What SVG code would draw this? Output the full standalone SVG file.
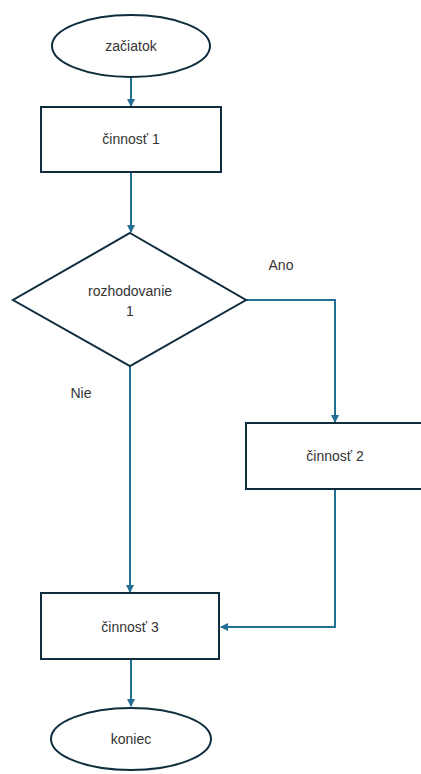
<svg xmlns="http://www.w3.org/2000/svg" width="421" height="774" viewBox="0 0 421 774">
<style>
.node{fill:#fff;stroke:#0f2d3d;stroke-width:2}
.lbl{font-family:"Liberation Sans","Noto Sans",sans-serif;font-size:14px;fill:#333;text-anchor:middle}
.edge{fill:none;stroke:#236e93;stroke-width:2}
</style>
<defs>
<marker id="ah" markerWidth="8" markerHeight="8" refX="7" refY="4" orient="auto" markerUnits="userSpaceOnUse">
<path d="M0,0 L8,4 L0,8 Z" fill="#236e93"/>
</marker>
</defs>
<rect width="421" height="774" fill="#fff"/>
<g id="connectors">
<line class="edge" x1="131" y1="78" x2="131" y2="106" marker-end="url(#ah)"/>
<line class="edge" x1="131" y1="172" x2="131" y2="232" marker-end="url(#ah)"/>
<polyline class="edge" points="246,300 335,300 335,422" marker-end="url(#ah)"/>
<line class="edge" x1="130" y1="366" x2="130" y2="592" marker-end="url(#ah)"/>
<polyline class="edge" points="335,489 335,627 221,627" marker-end="url(#ah)"/>
<line class="edge" x1="131" y1="659" x2="131" y2="706" marker-end="url(#ah)"/>
</g>
<g id="start">
<ellipse class="node" cx="131" cy="46" rx="79" ry="31"/>
<text class="lbl" x="131" y="51">začiatok</text>
</g>
<g id="step1">
<rect class="node" x="41" y="107" width="180" height="65"/>
<text class="lbl" x="131" y="144">činnosť 1</text>
</g>
<g id="decision1">
<polygon class="node" points="130,233 246,300 130,366 13,300"/>
<text class="lbl" x="130" y="296">rozhodovanie</text>
<text class="lbl" x="130" y="316">1</text>
</g>
<g id="step2">
<rect class="node" x="246" y="423" width="180" height="66"/>
<text class="lbl" x="335" y="461">činnosť 2</text>
</g>
<g id="step3">
<rect class="node" x="41" y="593" width="178" height="66"/>
<text class="lbl" x="130" y="632">činnosť 3</text>
</g>
<g id="end">
<ellipse class="node" cx="131" cy="739" rx="80" ry="31"/>
<text class="lbl" x="131" y="744">koniec</text>
</g>
<g id="edge-labels">
<text class="lbl" x="281" y="270">Ano</text>
<text class="lbl" x="81" y="398">Nie</text>
</g>
</svg>
